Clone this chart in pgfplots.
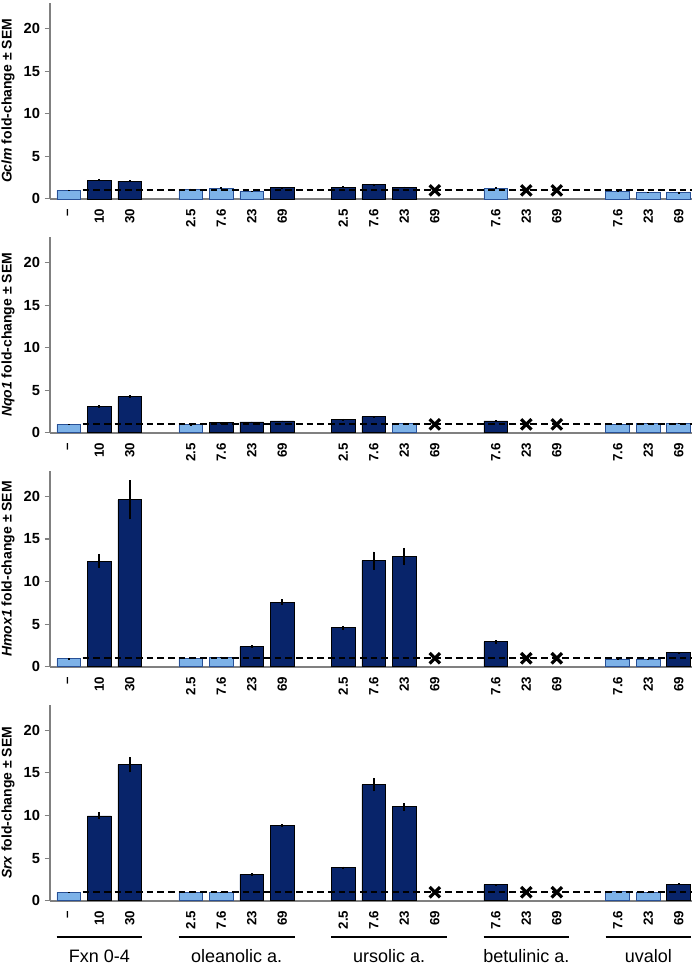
\documentclass[border=0pt]{standalone}
\usepackage{fontspec}
\setmainfont{Liberation Sans}
\usepackage{pgfplots}
\pgfplotsset{compat=1.18}
\usepgfplotslibrary{groupplots}
\usetikzlibrary{calc}
\definecolor{darkbar}{RGB}{8,36,106}
\definecolor{lightbar}{RGB}{125,178,232}
\definecolor{lightedge}{RGB}{40,80,150}
\definecolor{axgray}{RGB}{128,128,128}

\pgfplotsset{
 panel/.style={
  width=482pt, height=147pt, scale only axis,
  xmin=-0.62, xmax=20.45, ymin=0, ymax=23,
  axis x line*=bottom, axis y line*=left,
  axis line style={axgray},
  x axis line style={line width=1.4pt},
  y axis line style={line width=0.8pt},
  ytick={0,5,10,15,20}, tick align=outside,
  ytick style={axgray, line width=0.8pt}, major tick length=4pt,
  xtick={0,1,2,4,5,6,7,9,10,11,12,14,15,16,18,19,20},
  xticklabels={--,10,30,2.5,7.6,23,69,2.5,7.6,23,69,7.6,23,69,7.6,23,69},
  xtick style={draw=none},
  xticklabel style={rotate=90, anchor=east, font=\bfseries\fontsize{10}{11}\selectfont},
  yticklabel style={font=\bfseries\fontsize{11}{12}\selectfont},
  /pgf/number format/assume math mode=true,
  ylabel style={font=\bfseries\fontsize{10.5}{11}\selectfont},
  clip=false,
 },
 darkbars/.style={ybar, bar width=0.78, bar shift=0pt, fill=darkbar, draw=black, line width=0.6pt,
   error bars/.cd, y dir=both, y explicit, error mark=none,
   error bar style={black, line width=1.5pt}},
 lightbars/.style={ybar, bar width=0.78, bar shift=0pt, fill=lightbar, draw=lightedge, line width=0.6pt,
   error bars/.cd, y dir=both, y explicit, error mark=none,
   error bar style={black, line width=1.5pt}},
 refline/.style={sharp plot, black, line width=1.4pt, dash pattern=on 5pt off 3pt},
 xmarks/.style={only marks, mark=x, mark size=5.5pt, black, line width=2.4pt},
}
\tikzset{grpline/.style={black, line width=1.5pt}, grplabel/.style={anchor=base, font=\fontsize{13.5}{14}\selectfont}}

\begin{document}
\begin{tikzpicture}
\begin{groupplot}[group style={group size=1 by 4, vertical sep=28.5pt}, panel]
% ---------------- Gclm
\nextgroupplot[ylabel={\textit{Gclm} fold-change ± SEM}]
\addplot[lightbars] coordinates {(0,1.0) +- (0,0.05) (4,1.1) +- (0,0.1) (5,1.25) +- (0,0.12) (6,0.93) +- (0,0.06) (14,1.25) +- (0,0.1) (18,0.88) +- (0,0.05) (19,0.78) +- (0,0.05) (20,0.72) +- (0,0.05)};
\addplot[darkbars] coordinates {(1,2.2) +- (0,0.15) (2,2.1) +- (0,0.12) (7,1.3) +- (0,0.08) (9,1.4) +- (0,0.1) (10,1.65) +- (0,0.15) (11,1.35) +- (0,0.1)};
\addplot[refline] coordinates {(0.45,1) (20.45,1)};
\addplot[xmarks] coordinates {(12,1) (15,1) (16,1)};
% ---------------- Nqo1
\nextgroupplot[ylabel={\textit{Nqo1} fold-change ± SEM}]
\addplot[lightbars] coordinates {(0,1.0) +- (0,0.03) (4,0.97) +- (0,0.05) (11,1.13) +- (0,0.04) (18,1.0) +- (0,0.04) (19,1.13) +- (0,0.04) (20,1.13) +- (0,0.04)};
\addplot[darkbars] coordinates {(1,3.1) +- (0,0.15) (2,4.25) +- (0,0.15) (5,1.2) +- (0,0.05) (6,1.28) +- (0,0.05) (7,1.4) +- (0,0.05) (9,1.55) +- (0,0.08) (10,1.88) +- (0,0.1) (14,1.4) +- (0,0.08)};
\addplot[refline] coordinates {(0.45,1) (20.45,1)};
\addplot[xmarks] coordinates {(12,1) (15,1) (16,1)};
% ---------------- Hmox1
\nextgroupplot[ylabel={\textit{Hmox1} fold-change ± SEM}]
\addplot[lightbars] coordinates {(0,0.97) +- (0,0.03) (4,0.98) +- (0,0.08) (5,1.13) +- (0,0.06) (18,0.92) +- (0,0.04) (19,0.92) +- (0,0.04)};
\addplot[darkbars] coordinates {(1,12.4) +- (0,0.85) (2,19.6) +- (0,2.3) (6,2.38) +- (0,0.15) (7,7.58) +- (0,0.35) (9,4.57) +- (0,0.25) (10,12.46) +- (0,1.07) (11,12.93) +- (0,1.03) (14,2.93) +- (0,0.2) (20,1.68) +- (0,0.08)};
\addplot[refline] coordinates {(0.45,1) (20.45,1)};
\addplot[xmarks] coordinates {(12,1) (15,1) (16,1)};
% ---------------- Srx
\nextgroupplot[ylabel={\textit{Srx} fold-change ± SEM}]
\addplot[lightbars] coordinates {(0,0.98) +- (0,0.03) (4,0.98) +- (0,0.05) (5,0.98) +- (0,0.03) (18,1.05) +- (0,0.06) (19,0.98) +- (0,0.03)};
\addplot[darkbars] coordinates {(1,9.96) +- (0,0.4) (2,15.98) +- (0,0.9) (6,3.09) +- (0,0.15) (7,8.83) +- (0,0.2) (9,3.87) +- (0,0.15) (10,13.63) +- (0,0.8) (11,11.02) +- (0,0.45) (14,1.88) +- (0,0.06) (20,1.95) +- (0,0.08)};
\addplot[refline] coordinates {(0.45,1) (20.45,1)};
\addplot[xmarks] coordinates {(12,1) (15,1) (16,1)};
\draw[grpline] ([yshift=-27.5pt]axis cs:-0.4,0) -- ([yshift=-27.5pt]axis cs:2.4,0);
\draw[grpline] ([yshift=-27.5pt]axis cs:3.6,0) -- ([yshift=-27.5pt]axis cs:7.4,0);
\draw[grpline] ([yshift=-27.5pt]axis cs:8.6,0) -- ([yshift=-27.5pt]axis cs:12.4,0);
\draw[grpline] ([yshift=-27.5pt]axis cs:13.6,0) -- ([yshift=-27.5pt]axis cs:16.4,0);
\draw[grpline] ([yshift=-27.5pt]axis cs:17.6,0) -- ([yshift=-27.5pt]axis cs:20.4,0);
\node[grplabel] at ([yshift=-46pt]axis cs:1,0) {Fxn 0-4};
\node[grplabel] at ([yshift=-46pt]axis cs:5.5,0) {oleanolic a.};
\node[grplabel] at ([yshift=-46pt]axis cs:10.5,0) {ursolic a.};
\node[grplabel] at ([yshift=-46pt]axis cs:15,0) {betulinic a.};
\node[grplabel] at ([yshift=-46pt]axis cs:19,0) {uvalol};
\end{groupplot}
\pgfresetboundingbox
\path[use as bounding box] ($(group c1r1.north west)+(-37.5pt,2.25pt)$) rectangle ($(group c1r4.south east)+(3pt,-48.2pt)$);
\end{tikzpicture}
\end{document}
